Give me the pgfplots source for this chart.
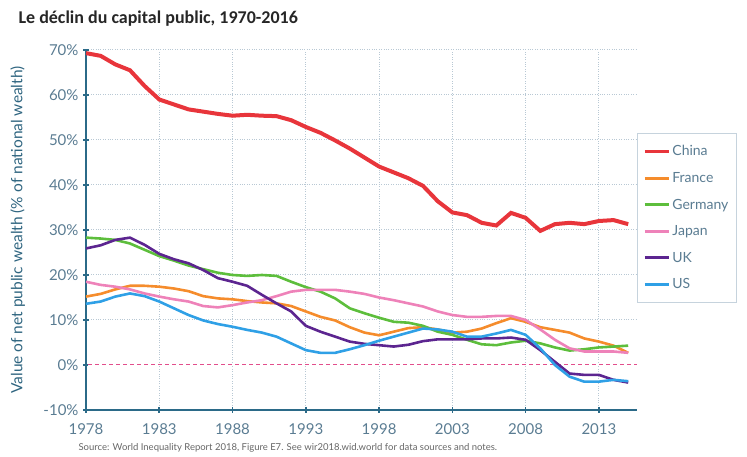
\documentclass[border=0pt]{standalone}
\usepackage{pgfplots}
\pgfplotsset{compat=1.18}
\usepackage{pgfplotstable}
\usepackage{fontspec}
\setmainfont{Lato}
\newfontfamily\titlefont{Carlito}
\usetikzlibrary{calc}
\definecolor{axteal}{HTML}{2B6A88}
\definecolor{ticktxt}{HTML}{5A7C92}
\definecolor{ylab}{HTML}{2F6580}
\definecolor{gridc}{HTML}{B8C8D4}
\definecolor{cChina}{HTML}{E8353B}
\definecolor{cFrance}{HTML}{F58C2C}
\definecolor{cGermany}{HTML}{5DBE3C}
\definecolor{cJapan}{HTML}{EE82B9}
\definecolor{cUK}{HTML}{5C2590}
\definecolor{cUS}{HTML}{2FA0E6}
\definecolor{zeroline}{HTML}{E24E8C}
\pgfplotstableread{
year china france germany japan uk us
1978 69.3 15.2 28.3 18.5 25.9 13.6
1979 68.7 15.8 28.1 17.8 26.6 14.1
1980 66.8 16.8 27.8 17.4 27.8 15.2
1981 65.5 17.6 27.0 16.8 28.3 15.9
1982 62.0 17.6 25.6 15.9 26.7 15.3
1983 59.0 17.4 24.2 15.2 24.7 14.1
1984 57.9 17.0 23.2 14.6 23.5 12.6
1985 56.8 16.4 22.1 14.1 22.6 11.1
1986 56.3 15.3 21.3 13.1 21.1 9.9
1987 55.8 14.8 20.5 12.8 19.3 9.1
1988 55.4 14.6 20.0 13.3 18.5 8.5
1989 55.6 14.2 19.8 13.9 17.6 7.8
1990 55.4 13.9 20.0 14.4 15.6 7.2
1991 55.3 13.7 19.8 15.3 13.7 6.3
1992 54.4 13.1 18.5 16.3 11.9 4.8
1993 52.9 11.9 17.3 16.7 8.7 3.3
1994 51.6 10.7 16.3 16.7 7.4 2.7
1995 49.9 9.9 14.8 16.7 6.3 2.7
1996 48.1 8.4 12.6 16.3 5.2 3.5
1997 46.1 7.2 11.5 15.8 4.7 4.4
1998 44.1 6.6 10.5 15.0 4.4 5.4
1999 42.8 7.4 9.6 14.4 4.1 6.3
2000 41.5 8.2 9.4 13.7 4.5 7.2
2001 39.8 8.4 8.7 13.0 5.3 8.1
2002 36.4 7.9 7.4 11.9 5.7 7.9
2003 33.9 7.2 6.7 11.1 5.7 7.4
2004 33.3 7.4 5.6 10.7 5.7 6.3
2005 31.6 8.1 4.6 10.7 5.9 6.3
2006 31.0 9.3 4.4 10.9 5.9 7.0
2007 33.8 10.4 5.0 10.9 6.1 7.8
2008 32.7 9.6 5.4 10.0 5.6 6.7
2009 29.8 8.4 4.8 7.9 3.3 3.7
2010 31.3 7.8 3.9 5.6 0.7 0.0
2011 31.6 7.2 3.2 3.7 -1.9 -2.6
2012 31.3 5.9 3.5 3.0 -2.2 -3.7
2013 32.0 5.2 3.9 3.0 -2.2 -3.7
2014 32.2 4.3 4.1 3.0 -3.3 -3.3
2015 31.3 2.7 4.3 2.7 -3.9 -3.6
}\datatable
\begin{document}
\begin{tikzpicture}
\begin{axis}[
  name=ax, at={(0,0)}, anchor=south west,
  scale only axis, width=551pt, height=360pt,
  xmin=1978, xmax=2015.6, ymin=-10, ymax=70,
  axis x line*=bottom, axis y line*=left,
  axis line style={axteal, line width=2pt, -},
  xtick={1978,1983,...,2013},
  ytick={-10,0,...,70},
  xticklabel style={/pgf/number format/1000 sep={}, yshift=-7pt},
  yticklabel style={xshift=-1pt},
  yticklabel={\pgfmathprintnumber{\tick}\%},
  /pgf/number format/assume math mode=true,
  ticklabel style={font=\fontsize{15}{15}\selectfont, text=ticktxt},
  tick style={axteal, line width=1.6pt},
  major tick length=6pt,
  tick align=center,
  grid=major,
  grid style={dotted, gridc, line width=1pt},
  ylabel={Value of net public wealth (\% of national wealth)},
  ylabel style={at={(axis description cs:-0.124,0.5)}, anchor=center, rotate=0, font=\fontsize{15.5}{15.5}\selectfont, text=ylab},
  legend style={at={(1,0.769)}, anchor=north west, draw=gridc!80, line width=0.8pt,
    font=\fontsize{14}{14}\selectfont, text=ticktxt, row sep=11pt, inner xsep=6pt, inner ysep=10pt,
    /tikz/every even column/.append style={column sep=6pt}},
  legend cell align=left,
  legend image code/.code={\draw[#1, line width=3pt] (0pt,0pt) -- (24pt,0pt);},
]
\addplot[white, line width=1.6pt, forget plot] coordinates {(1978.15,0) (2015.6,0)};
\addplot[zeroline, dash pattern=on 4pt off 3pt, line width=1pt, forget plot] coordinates {(1978.15,0) (2015.6,0)};
\addplot[cChina, line width=4pt] table[x=year, y=china] {\datatable};
\addlegendentry{China}
\addplot[cFrance, line width=2.6pt] table[x=year, y=france] {\datatable};
\addlegendentry{France}
\addplot[cGermany, line width=2.6pt] table[x=year, y=germany] {\datatable};
\addlegendentry{Germany}
\addplot[cJapan, line width=2.6pt] table[x=year, y=japan] {\datatable};
\addlegendentry{Japan}
\addplot[cUK, line width=2.6pt] table[x=year, y=uk] {\datatable};
\addlegendentry{UK}
\addplot[cUS, line width=2.6pt] table[x=year, y=us] {\datatable};
\addlegendentry{US}
\end{axis}
\node[anchor=base west, font=\titlefont\bfseries\fontsize{18}{18}\selectfont, text=black!85] at ($(ax.south west)+(-71pt,386pt)$) {Le déclin du capital public, 1970-2016};
\node[anchor=base west, font=\fontsize{9.5}{9.5}\selectfont, text=gray!80!black] at ($(ax.south west)+(-11pt,-41pt)$) {Source: World Inequality Report 2018, Figure E7. See wir2018.wid.world for data sources and notes.};
\pgfresetboundingbox
\path ($(ax.south west)+(-86pt,-47pt)$) rectangle ($(ax.south west)+(661pt,410pt)$);
\end{tikzpicture}
\end{document}
